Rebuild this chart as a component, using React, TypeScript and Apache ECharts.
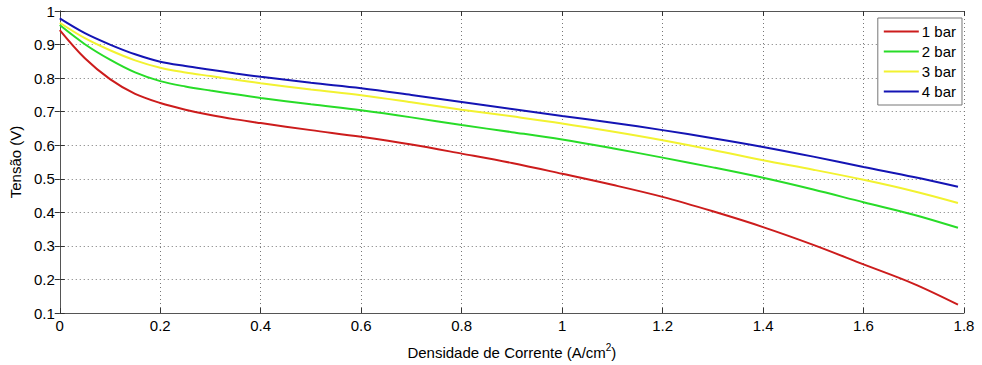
import React, { useEffect, useRef } from "react";
import * as echarts from "echarts";

const xValues = [0, 0.05, 0.1, 0.15, 0.2, 0.25, 0.3, 0.35, 0.4, 0.5, 0.6, 0.7, 0.8, 0.9, 1.0, 1.1, 1.2, 1.3, 1.4, 1.5, 1.6, 1.7, 1.788];
const bar1 = [0.943, 0.859, 0.797, 0.753, 0.726, 0.706, 0.69, 0.677, 0.666, 0.645, 0.625, 0.602, 0.575, 0.547, 0.515, 0.482, 0.446, 0.403, 0.356, 0.303, 0.245, 0.187, 0.125];
const bar2 = [0.958, 0.901, 0.855, 0.817, 0.791, 0.775, 0.763, 0.752, 0.741, 0.722, 0.704, 0.683, 0.66, 0.639, 0.617, 0.591, 0.563, 0.534, 0.503, 0.468, 0.43, 0.393, 0.354];
const bar3 = [0.965, 0.919, 0.883, 0.853, 0.831, 0.817, 0.806, 0.795, 0.785, 0.766, 0.749, 0.728, 0.706, 0.686, 0.665, 0.641, 0.615, 0.586, 0.555, 0.527, 0.497, 0.463, 0.428];
const bar4 = [0.978, 0.934, 0.900, 0.871, 0.849, 0.836, 0.825, 0.814, 0.804, 0.786, 0.77, 0.75, 0.729, 0.708, 0.687, 0.667, 0.645, 0.621, 0.595, 0.566, 0.535, 0.505, 0.476];
const seriesNames = ["1 bar", "2 bar", "3 bar", "4 bar"];
const seriesColors = ["#cc1c1c", "#28dc28", "#f2f230", "#1414b4"];
const xAxisTitleMain = "Densidade de Corrente (A/cm";
const xAxisTitleSup = "2";
const yAxisTitle = "Tensão (V)";

const FONT = "'Liberation Sans', Arial, Helvetica, sans-serif";

export default function App() {
  const ref = useRef<HTMLDivElement>(null);
  useEffect(() => {
    if (!ref.current) return;
    const chart = echarts.init(ref.current, undefined, { renderer: "svg" });
    const all = [bar1, bar2, bar3, bar4];
    const axisLine = { show: true, lineStyle: { color: "#555", width: 1 } };
    const tick = { show: true, inside: true, length: 5, lineStyle: { color: "#333" } };
    const split = { show: true, lineStyle: { color: "#777", type: [1, 3] as any, width: 1 } };
    chart.setOption({
      animation: false,
      backgroundColor: "#fff",
      textStyle: { fontFamily: FONT },
      grid: { left: 58, right: 18, top: 11, bottom: 52, containLabel: false },
      legend: {
        orient: "vertical",
        right: 20,
        top: 18,
        itemWidth: 35,
        itemHeight: 2,
        itemGap: 3,
        padding: [5, 6, 5, 6],
        backgroundColor: "#fff",
        borderColor: "#777",
        borderWidth: 1,
        borderRadius: 0,
        icon: "rect",
        textStyle: { fontFamily: FONT, fontSize: 15, color: "#000", lineHeight: 17, padding: [0, 0, 0, -2] },
        data: seriesNames,
      },
      xAxis: [
        {
          type: "value",
          min: 0,
          max: 1.8,
          interval: 0.2,
          position: "bottom",
          name: `{n|${xAxisTitleMain}}{s|${xAxisTitleSup}}{n|)}`,
          nameLocation: "middle",
          nameGap: 29,
          nameTextStyle: {
            fontFamily: FONT,
            fontSize: 15,
            color: "#000",
            rich: {
              n: { fontFamily: FONT, fontSize: 15, color: "#000", verticalAlign: "bottom", lineHeight: 18 },
              s: { fontFamily: FONT, fontSize: 10, color: "#000", verticalAlign: "top", lineHeight: 18 },
            },
          },
          axisLine,
          axisTick: tick,
          axisLabel: { fontFamily: FONT, fontSize: 15, color: "#000", margin: 5 },
          splitLine: split,
        },
        {
          type: "value",
          min: 0,
          max: 1.8,
          interval: 0.2,
          position: "top",
          axisLine,
          axisTick: tick,
          axisLabel: { show: false },
          splitLine: { show: false },
        },
      ],
      yAxis: [
        {
          type: "value",
          min: 0.1,
          max: 1,
          interval: 0.1,
          position: "left",
          name: yAxisTitle,
          nameLocation: "middle",
          nameGap: 33,
          nameTextStyle: { fontFamily: FONT, fontSize: 15, color: "#000" },
          axisLine,
          axisTick: tick,
          axisLabel: { fontFamily: FONT, fontSize: 15, color: "#000", margin: 5 },
          splitLine: split,
        },
        {
          type: "value",
          min: 0.1,
          max: 1,
          interval: 0.1,
          position: "right",
          axisLine,
          axisTick: tick,
          axisLabel: { show: false },
          splitLine: { show: false },
        },
      ],
      series: seriesNames.map((n, i) => ({
        name: n,
        type: "line",
        smooth: 0.35,
        symbol: "none",
        showSymbol: false,
        color: seriesColors[i],
        lineStyle: { width: 2, color: seriesColors[i] },
        data: xValues.map((x, j) => [x, all[i][j]]),
      })),
    });
    return () => chart.dispose();
  }, []);
  return <div ref={ref} style={{ position: "fixed", left: 0, top: 0, width: 982, height: 365 }} />;
}
